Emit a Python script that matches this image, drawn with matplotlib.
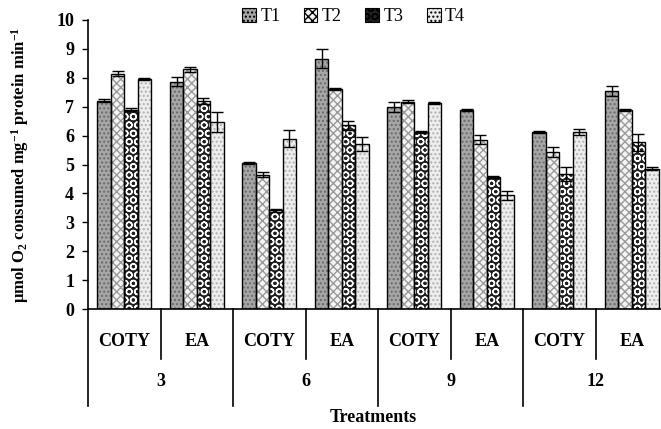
import numpy as np
import matplotlib
matplotlib.use("Agg")
import matplotlib.pyplot as plt
from matplotlib.patches import Patch
import matplotlib.transforms as mtransforms

plt.rcParams['font.family'] = ['Liberation Serif', 'DejaVu Serif']
plt.rcParams['mathtext.fontset'] = 'custom'
plt.rcParams['mathtext.rm'] = 'Liberation Serif:bold'
plt.rcParams['mathtext.it'] = 'Liberation Serif:bold'
plt.rcParams['mathtext.bf'] = 'Liberation Serif:bold'
plt.rcParams['hatch.linewidth'] = 1.0

# sub-categories and time groups
subcats = ["COTY", "EA", "COTY", "EA", "COTY", "EA", "COTY", "EA"]
groups = ["3", "6", "9", "12"]
series = ["T1", "T2", "T3", "T4"]

# means
t1 = [7.21, 7.86, 5.05, 8.66, 6.98, 6.88, 6.13, 7.54]
t2 = [8.14, 8.29, 4.65, 7.62, 7.17, 5.86, 5.42, 6.88]
t3 = [6.90, 7.19, 3.41, 6.35, 6.13, 4.57, 4.67, 5.77]
t4 = [7.96, 6.47, 5.89, 5.71, 7.13, 3.93, 6.13, 4.86]
# standard errors
e1 = [0.04, 0.16, 0.04, 0.32, 0.17, 0.04, 0.04, 0.17]
e2 = [0.08, 0.10, 0.08, 0.04, 0.05, 0.15, 0.17, 0.04]
e3 = [0.04, 0.10, 0.04, 0.15, 0.04, 0.04, 0.24, 0.29]
e4 = [0.04, 0.36, 0.29, 0.23, 0.04, 0.17, 0.10, 0.04]

values = [t1, t2, t3, t4]
errors = [e1, e2, e3, e4]

# face colour, hatch, hatch colour for each treatment
styles = [
    ("#a6a6a6", "....", "#6a6a6a"),
    ("#f4f4f4", "xxxx", "#9a9a9a"),
    ("#202020", "OO", "#ffffff"),
    ("#eeeeee", "....", "#b0b0b0"),
]

fig = plt.figure(figsize=(6.61, 4.29), dpi=100)
ax = fig.add_axes([88 / 661, 120 / 429, 580 / 661, 289 / 429])

x = np.arange(len(subcats))
w = 0.186
for i, (vals, errs, (fc, hatch, hc)) in enumerate(zip(values, errors, styles)):
    pos = x + (i - 1.5) * w
    # hatched fill
    ax.bar(pos, vals, w, color=fc, edgecolor=hc, hatch=hatch, linewidth=0, zorder=2)
    # black outline
    ax.bar(pos, vals, w, fill=False, edgecolor="black", linewidth=1.0, zorder=3)
    ax.errorbar(pos, vals, yerr=errs, fmt="none", ecolor="black",
                elinewidth=1.0, capsize=4, capthick=1.0, zorder=4)

ax.set_xlim(-0.5, len(subcats) - 0.5)
ax.set_ylim(0, 10)
ax.set_yticks(range(0, 11))
ax.tick_params(axis="y", direction="out", length=4, width=1, labelsize=13, pad=6)
for lab in ax.get_yticklabels():
    lab.set_fontweight("bold")
ax.set_xticks([])
ax.spines["top"].set_visible(False)
ax.spines["right"].set_visible(False)
ax.spines["left"].set_linewidth(1.2)
ax.spines["bottom"].set_linewidth(1.2)

# two-level category axis
trans = mtransforms.blended_transform_factory(ax.transData, ax.transAxes)
px = 1.0 / 289
for k in range(len(subcats) + 1):
    xb = k - 0.5
    depth = 97 if k % 2 == 0 else 50
    ax.plot([xb, xb], [0, -depth * px], color="black", lw=1.2,
            transform=trans, clip_on=False)
for k, name in enumerate(subcats):
    ax.text(k, -32 * px, name, transform=trans, ha="center", va="center",
            fontsize=13, fontweight="bold")
for g, name in enumerate(groups):
    ax.text(2 * g + 0.5, -73 * px, name, transform=trans, ha="center", va="center",
            fontsize=13, fontweight="bold")
fig.text(373 / 661, 1 - 418 / 429, "Treatments", ha="center", va="center",
         fontsize=13, fontweight="bold")

fig.text(20 / 661, 1 - 165 / 429,
         r"$\mu$mol O$_2$ consumed mg$^{-1}$ protein min$^{-1}$",
         rotation=90, ha="center", va="center", fontsize=12, fontweight="bold")

handles = [Patch(facecolor=fc, edgecolor="black", hatch=h, linewidth=0.8)
           for fc, h, hc in styles]
fig.legend(handles, series, loc="center", bbox_to_anchor=(0.535, 0.961), ncol=4,
           frameon=False, fontsize=13, handlelength=0.75, handleheight=0.75,
           columnspacing=1.3, handletextpad=0.25)

fig.savefig("out.png", dpi=100)
